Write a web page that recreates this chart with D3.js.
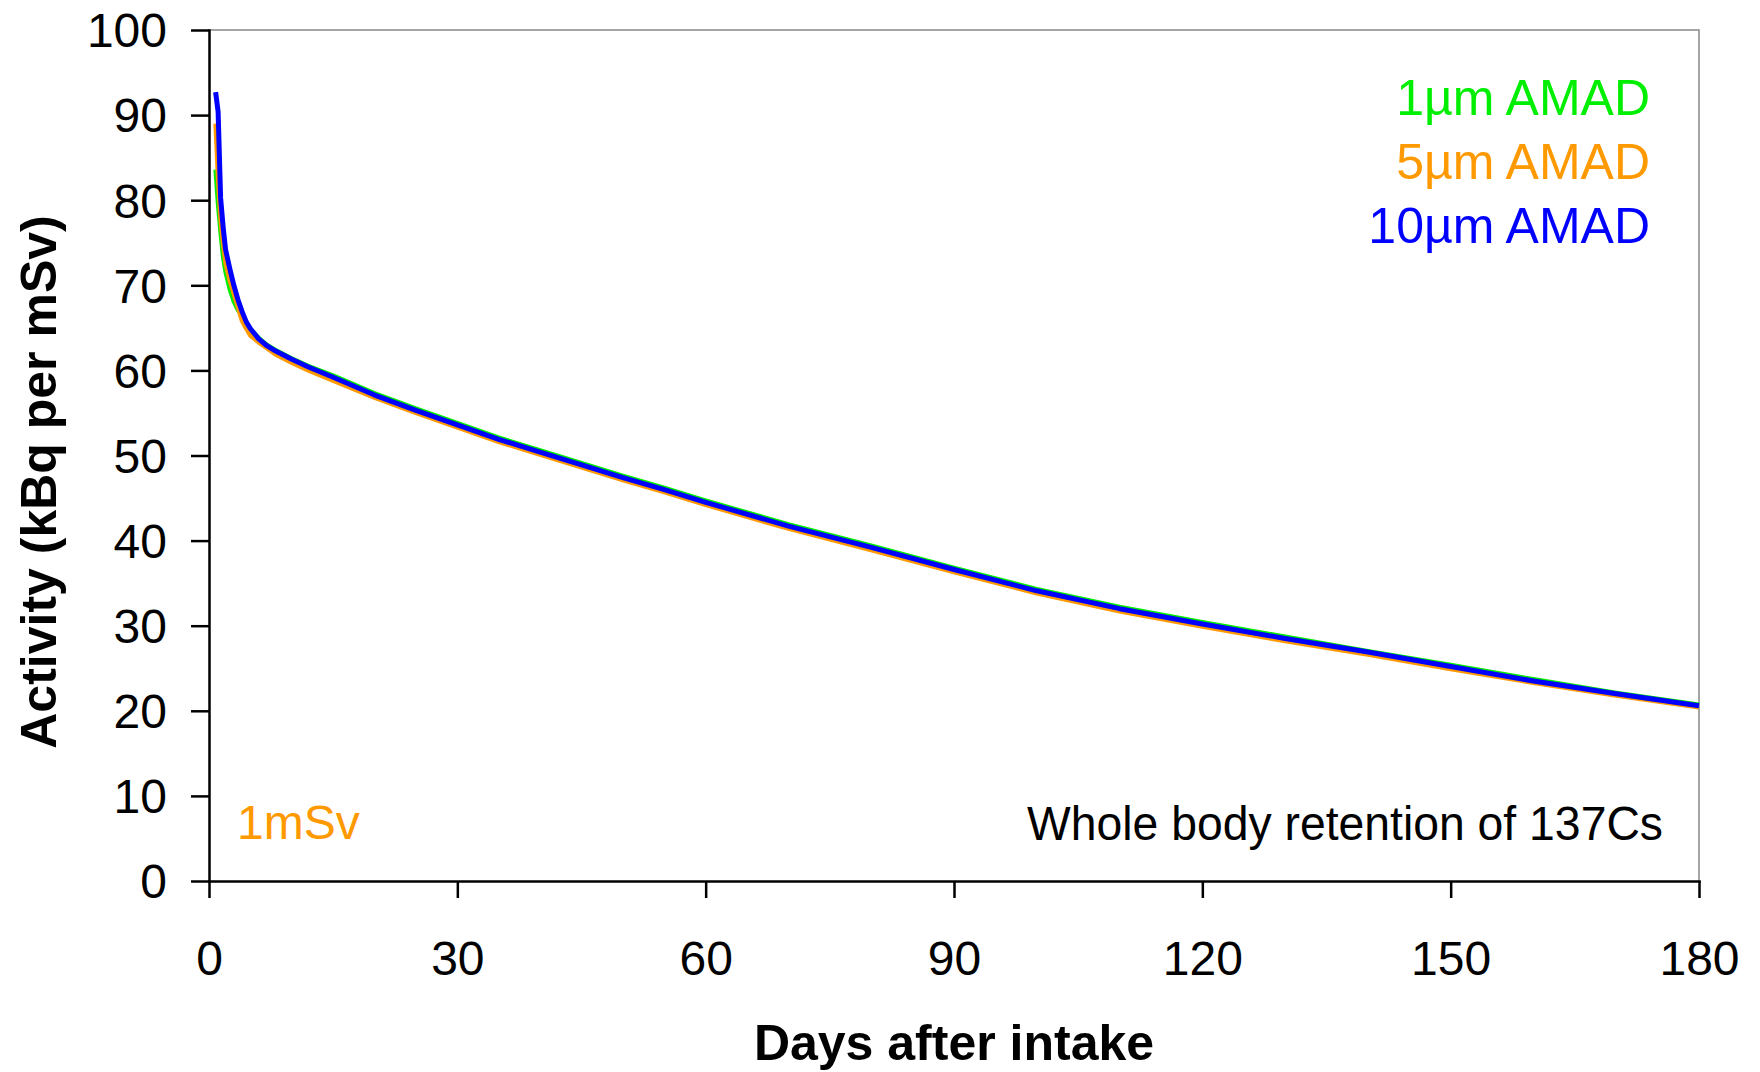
<!DOCTYPE html>
<meta charset="utf-8">
<style>
    html, body { margin: 0; background: #fff; }
    text { font-family: "Liberation Sans", Arial, sans-serif; }
    .tick text { font-size: 48px; fill: #000; }
    .axis path, .axis line { stroke: #000; stroke-width: 2.5px; }
    .frame { fill: none; stroke: #888; stroke-width: 1.5px; }
    .series { fill: none; stroke-linejoin: round; }
</style>
<body>
<script src="https://d3js.org/d3.v7.min.js"></script>
<script>
    // days after intake (common grid)
    var days = [0.8, 1.1, 1.4, 1.7, 2, 2.5, 3, 3.5, 4, 4.5, 5, 6, 7, 8, 10, 12, 15, 20, 25, 30, 35, 40, 45, 50, 55, 60, 70, 80, 90, 100, 110, 120, 130, 140, 150, 160, 170, 180];

    // kBq per mSv
    var amad1 = [83.6, 79.5, 76.3, 73.4, 71.6, 69.6, 68.1, 67.1, 66.5, 65.6, 64.9, 63.8, 63.0, 62.4, 61.4, 60.5, 59.4, 57.3, 55.5, 53.8, 52.1, 50.6, 49.1, 47.6, 46.2, 44.7, 41.9, 39.4, 36.8, 34.3, 32.2, 30.4, 28.7, 27.0, 25.4, 23.7, 22.1, 20.7];
    var amad5 = [89.0, 82.5, 77.7, 74.9, 72.6, 70.6, 69.0, 67.4, 65.8, 64.9, 64.1, 63.3, 62.6, 61.9, 60.9, 60.0, 58.8, 56.8, 55.0, 53.3, 51.6, 50.1, 48.6, 47.1, 45.7, 44.2, 41.4, 38.9, 36.3, 33.8, 31.7, 29.9, 28.2, 26.6, 24.9, 23.3, 21.8, 20.4];
    var amad10 = [92.7, 90.4, 80.3, 76.9, 74.2, 72.0, 70.0, 68.3, 66.9, 65.7, 64.9, 63.7, 62.9, 62.3, 61.3, 60.4, 59.2, 57.1, 55.3, 53.6, 51.9, 50.4, 48.9, 47.4, 46.0, 44.5, 41.7, 39.2, 36.6, 34.1, 32.0, 30.2, 28.5, 26.9, 25.2, 23.5, 22.0, 20.6];

    var xTicks = [0, 30, 60, 90, 120, 150, 180];
    var yTicks = [0, 10, 20, 30, 40, 50, 60, 70, 80, 90, 100];

    var seriesNames = ["1\u00b5m AMAD", "5\u00b5m AMAD", "10\u00b5m AMAD"];
    var seriesColors = ["#00ee00", "#ff9900", "#0000ff"];

    var width = 1760,
        height = 1072,
        margin = { top: 30, right: 61, bottom: 191, left: 209 };

    var x = d3.scaleLinear().domain([0, 180]).range([margin.left, width - margin.right]);
    var y = d3.scaleLinear().domain([0, 100]).range([height - margin.bottom, margin.top]);

    var svg = d3.select("body").append("svg")
        .attr("width", width)
        .attr("height", height);

    // grey frame on top and right
    svg.append("path")
        .attr("class", "frame")
        .attr("d", "M" + x(0) + "," + y(100) + "H" + x(180) + "V" + y(0));

    var line = d3.line()
        .x(function (d) { return x(d[0]); })
        .y(function (d) { return y(d[1]); });

    var allSeries = [amad1, amad5, amad10];
    var widths = [4.5, 4.5, 5];

    allSeries.forEach(function (vals, i) {
        svg.append("path")
            .datum(days.map(function (d, j) { return [d, vals[j]]; }))
            .attr("class", "series")
            .attr("stroke", seriesColors[i])
            .attr("stroke-width", widths[i])
            .attr("d", line);
    });

    // axes
    svg.append("g")
        .attr("class", "axis")
        .attr("transform", "translate(" + x(0) + ",0)")
        .call(d3.axisLeft(y).tickValues(yTicks).tickSize(18).tickSizeOuter(0).tickPadding(24))
        .selectAll("text").attr("dy", "0.35em");

    svg.append("g")
        .attr("class", "axis")
        .attr("transform", "translate(0," + y(0) + ")")
        .call(d3.axisBottom(x).tickValues(xTicks).tickSize(17).tickSizeOuter(0).tickPadding(0))
        .selectAll("text").attr("y", 94).attr("dy", 0);

    svg.selectAll(".axis .domain").attr("stroke-linecap", "square");

    // axis titles
    svg.append("text")
        .attr("x", (x(0) + x(180)) / 2)
        .attr("y", 1060)
        .attr("text-anchor", "middle")
        .style("font-size", "50px")
        .style("font-weight", "bold")
        .text("Days after intake");

    svg.append("text")
        .attr("transform", "translate(56,482) rotate(-90)")
        .attr("text-anchor", "middle")
        .style("font-size", "50px")
        .style("font-weight", "bold")
        .text("Activity (kBq per mSv)");

    // legend
    seriesNames.forEach(function (name, i) {
        svg.append("text")
            .attr("x", 1650)
            .attr("y", 115 + i * 64)
            .attr("text-anchor", "end")
            .attr("fill", seriesColors[i])
            .style("font-size", "50px")
            .text(name);
    });

    // annotations
    svg.append("text")
        .attr("x", 237)
        .attr("y", 839)
        .attr("fill", "#ff9900")
        .style("font-size", "48px")
        .text("1mSv");

    svg.append("text")
        .attr("x", 1027)
        .attr("y", 840)
        .attr("fill", "#000")
        .attr("textLength", 636)
        .attr("lengthAdjust", "spacingAndGlyphs")
        .style("font-size", "48px")
        .text("Whole body retention of 137Cs");
</script>
</body>
